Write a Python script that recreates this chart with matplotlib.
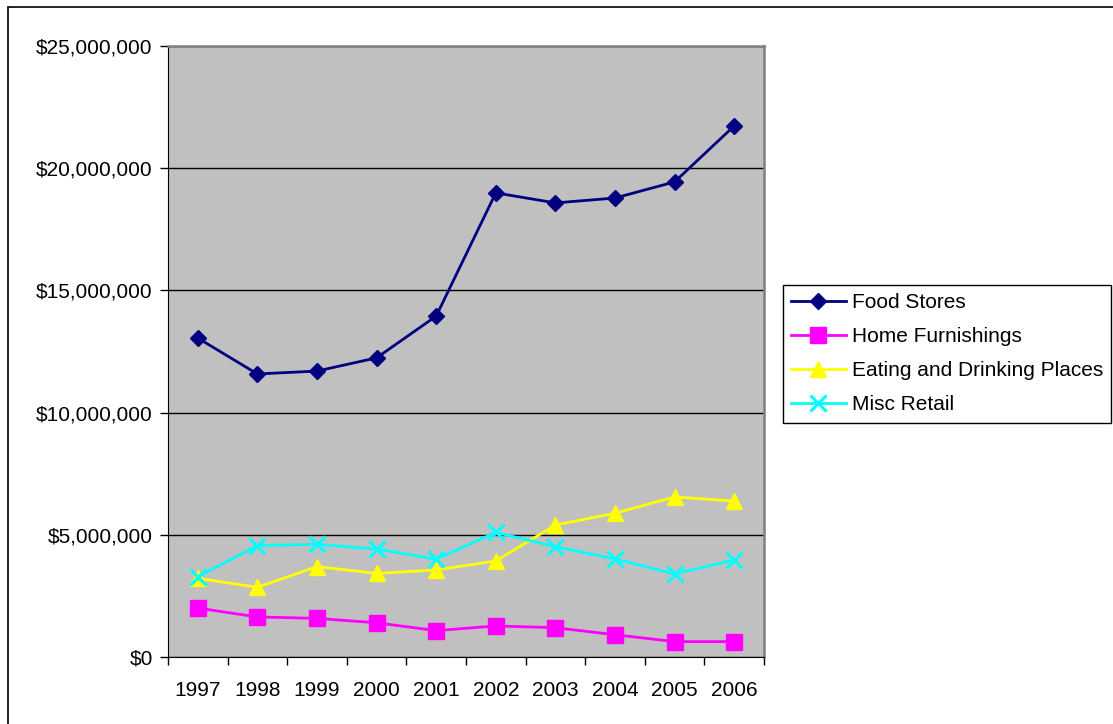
import numpy as np
import matplotlib.pyplot as plt
from matplotlib.patches import Rectangle
from matplotlib.ticker import FuncFormatter, FixedLocator

years = ['1997', '1998', '1999', '2000', '2001', '2002', '2003', '2004', '2005', '2006']
food_stores = [13050000, 11580000, 11700000, 12240000, 13950000, 18990000, 18580000, 18780000, 19440000, 21730000]
home_furnishings = [2000000, 1640000, 1580000, 1400000, 1080000, 1270000, 1200000, 910000, 630000, 630000]
eating_drinking = [3220000, 2850000, 3700000, 3420000, 3560000, 3930000, 5400000, 5880000, 6550000, 6380000]
misc_retail = [3290000, 4560000, 4610000, 4420000, 4000000, 5100000, 4510000, 4010000, 3400000, 3970000]

plt.rcParams['font.family'] = ['Liberation Sans', 'DejaVu Sans']

fig = plt.figure(figsize=(11.13, 7.24), dpi=100)
ax = fig.add_axes([168 / 1113, 67 / 724, 596 / 1113, 611 / 724])

# outer chart border
fig.patches.append(Rectangle((8 / 1113, -0.05), 1.1, (724 - 7) / 724 + 0.05,
                             transform=fig.transFigure, fill=False,
                             edgecolor='black', linewidth=1.2))

x = np.arange(len(years))
ax.plot(x, food_stores, color='#000080', marker='D', markersize=8, linewidth=2, label='Food Stores')
ax.plot(x, home_furnishings, color='#FF00FF', marker='s', markersize=11, linewidth=2, label='Home Furnishings')
ax.plot(x, eating_drinking, color='#FFFF00', marker='^', markersize=11, linewidth=2, label='Eating and Drinking Places')
ax.plot(x, misc_retail, color='#00FFFF', marker='x', markersize=11, markeredgewidth=2.2, linewidth=2, label='Misc Retail')

ax.set_facecolor('#C0C0C0')
ax.set_xlim(-0.5, len(years) - 0.5)
ax.set_ylim(0, 25000000)
ax.yaxis.set_major_locator(FixedLocator(np.arange(0, 25000001, 5000000)))
ax.yaxis.set_major_formatter(FuncFormatter(lambda v, p: '${:,.0f}'.format(v)))
ax.grid(axis='y', color='black', linewidth=1)
ax.set_axisbelow(True)

ax.set_xticks(np.arange(-0.5, len(years), 1))
ax.set_xticklabels([])
ax.set_xticks(x, minor=True)
ax.set_xticklabels(years, minor=True)
ax.tick_params(axis='x', which='minor', length=0, labelsize=15, pad=17)
ax.tick_params(axis='x', which='major', length=6, width=1, direction='out')
ax.tick_params(axis='y', length=6, width=1, labelsize=15, pad=5)

for side in ['top', 'right']:
    ax.spines[side].set_color('#808080')
    ax.spines[side].set_linewidth(1.8)
ax.spines['left'].set_color('black')
ax.spines['bottom'].set_color('black')

leg = ax.legend(loc='upper left', bbox_to_anchor=(783 / 1113, (724 - 285) / 724),
                bbox_transform=fig.transFigure, borderaxespad=0, fontsize=15,
                fancybox=False, framealpha=1, edgecolor='black',
                handlelength=2.6, handletextpad=0.3, labelspacing=0.72,
                borderpad=0.4)
leg.get_frame().set_linewidth(1)

fig.savefig('out.png', dpi=100)
